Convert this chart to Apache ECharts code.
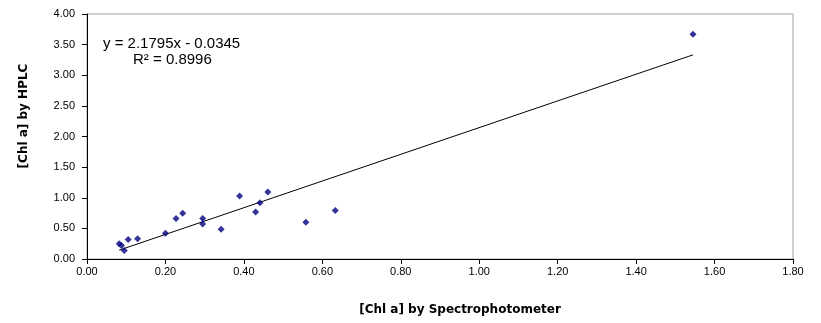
<!DOCTYPE html>
<html>
<head>
<meta charset="utf-8">
<script src="https://cdn.jsdelivr.net/npm/echarts@6/dist/echarts.min.js"></script>
<style>
  html, body { margin: 0; padding: 0; background: #fff; }
  #chart { width: 821px; height: 323px; }
</style>
</head>
<body>
<div id="chart"></div>
<script>
// 分光光度法测得的浓度 (x) 与 HPLC 测得的浓度 (y)
const spectro = [0.082, 0.088, 0.095, 0.105, 0.129, 0.200, 0.227, 0.244, 0.295, 0.295,
                 0.342, 0.389, 0.430, 0.441, 0.461, 0.558, 0.633, 1.545]
const hplc = [0.25, 0.22, 0.14, 0.32, 0.33, 0.42, 0.66, 0.745, 0.66, 0.57,
              0.485, 1.03, 0.767, 0.92, 1.094, 0.60, 0.79, 3.67]

// 趋势线方程系数
const slope = 2.1795
const intercept = -0.0345
const eqText = 'y = 2.1795x - 0.0345'
const r2Text = 'R² = 0.8996'
const xTitle = '[Chl a] by Spectrophotometer'
const yTitle = '[Chl a] by HPLC'

const xMin = Math.min(...spectro)
const xMax = Math.max(...spectro)
const trend = [[xMin, slope * xMin + intercept], [xMax, slope * xMax + intercept]]

const font = 'Liberation Sans, Arial, sans-serif'
const titleFont = 'bold 12px DejaVu Sans, Verdana, sans-serif'
const chart = echarts.init(document.getElementById('chart'))

chart.setOption({
  animation: false,
  grid: {left: 87, right: 28, top: 14, bottom: 64, show: true, borderColor: '#a0a0a0', borderWidth: 1},
  xAxis: {
    type: 'value',
    min: 0, max: 1.8, interval: 0.2,
    axisLine: {show: true, lineStyle: {color: '#000', width: 1}},
    axisTick: {show: true, length: 5, lineStyle: {color: '#000'}},
    axisLabel: {fontFamily: font, fontSize: 11, color: '#000', margin: 7, formatter: v => v.toFixed(2)},
    splitLine: {show: false}
  },
  yAxis: {
    type: 'value',
    min: 0, max: 4, interval: 0.5,
    axisLine: {show: true, lineStyle: {color: '#000', width: 1}},
    axisTick: {show: true, length: 5, lineStyle: {color: '#000'}},
    axisLabel: {fontFamily: font, fontSize: 11, color: '#000', margin: 12, formatter: v => v.toFixed(2)},
    splitLine: {show: false}
  },
  graphic: [
    {
      type: 'text', x: 24, y: 116, rotation: Math.PI / 2,
      style: {text: yTitle, font: titleFont, fill: '#000', align: 'center', verticalAlign: 'middle'}
    },
    {
      type: 'text', x: 460, y: 310,
      style: {text: xTitle, font: titleFont, fill: '#000', align: 'center', verticalAlign: 'middle'}
    },
    {
      type: 'text', x: 103, y: 44,
      style: {text: eqText, font: '15px ' + font, fill: '#000', verticalAlign: 'middle'}
    },
    {
      type: 'text', x: 133, y: 60,
      style: {text: r2Text, font: '15px ' + font, fill: '#000', verticalAlign: 'middle'}
    }
  ],
  series: [
    {
      type: 'line',
      data: trend,
      symbol: 'none',
      lineStyle: {color: '#000', width: 1},
      z: 2
    },
    {
      type: 'scatter',
      data: spectro.map((x, i) => [x, hplc[i]]),
      symbol: 'diamond',
      symbolSize: 7,
      itemStyle: {color: '#000080'},
      z: 3
    }
  ]
})
</script>
</body>
</html>
